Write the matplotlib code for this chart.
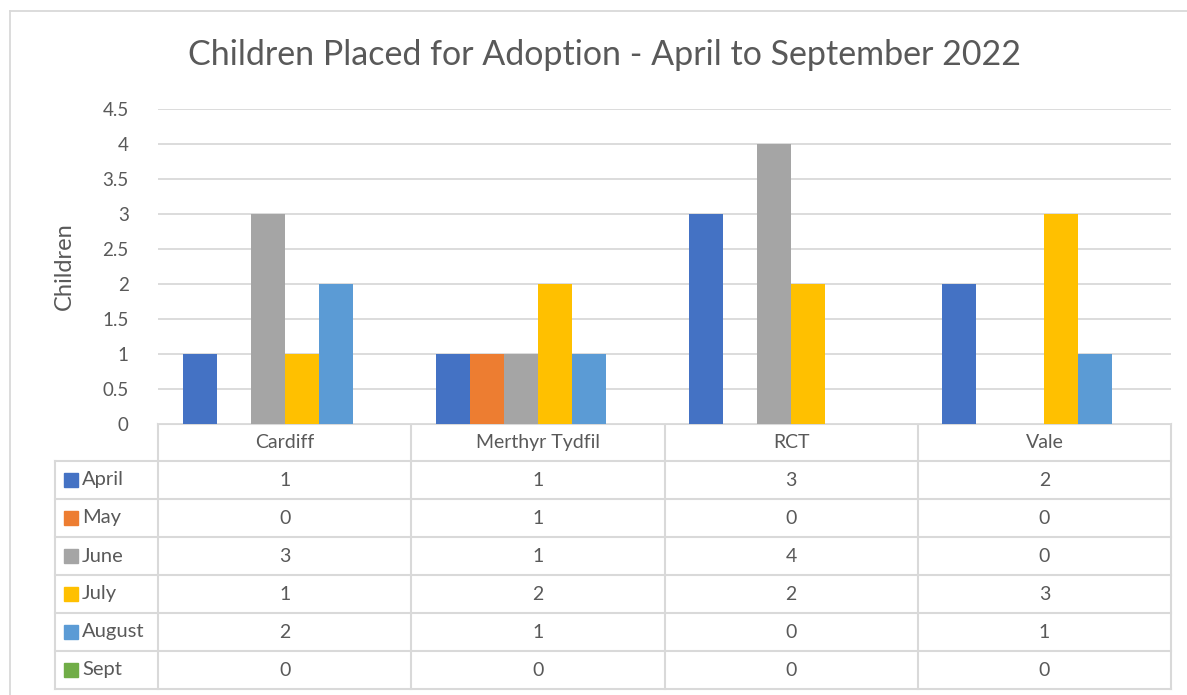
import numpy as np
import matplotlib
matplotlib.use('Agg')
import matplotlib.pyplot as plt
from matplotlib.patches import Rectangle

plt.rcParams['font.family'] = ['Lato', 'DejaVu Sans']

# data
areas = ['Cardiff', 'Merthyr Tydfil', 'RCT', 'Vale']
months = ['April', 'May', 'June', 'July', 'August', 'Sept']
april = [1, 1, 3, 2]
may = [0, 1, 0, 0]
june = [3, 1, 4, 0]
july = [1, 2, 2, 3]
august = [2, 1, 0, 1]
sept = [0, 0, 0, 0]
series = [april, may, june, july, august, sept]
colors = ['#4472C4', '#ED7D31', '#A5A5A5', '#FFC000', '#5B9BD5', '#70AD47']

W, H = 1187, 695
txt = '#595959'
line = '#D9D9D9'

fig = plt.figure(figsize=(W / 100, H / 100), dpi=100)

# pixel overlay for table and border
ov = fig.add_axes([0, 0, 1, 1])
ov.set_xlim(0, W)
ov.set_ylim(H, 0)
ov.axis('off')

x0, x1 = 158, 1171
y0, y1 = 424, 109
ax = fig.add_axes([x0 / W, 1 - y0 / H, (x1 - x0) / W, (y0 - y1) / H])

n = len(areas)
x = np.arange(n)
bw = 34 / ((x1 - x0) / n)
for i, (vals, c) in enumerate(zip(series, colors)):
    ax.bar(x + (i - 2.5) * bw, vals, bw, color=c, label=months[i], zorder=3)

ax.set_xlim(-0.5, n - 0.5)
ax.set_ylim(0, 4.5)
ax.set_yticks(np.arange(0, 4.51, 0.5))
ax.set_yticklabels(['0', '0.5', '1', '1.5', '2', '2.5', '3', '3.5', '4', '4.5'])
ax.set_xticks([])
ax.tick_params(axis='y', length=0, pad=21, labelsize=13.5, labelcolor=txt)
ax.grid(axis='y', color=line, linewidth=1.3, zorder=0)
for s in ax.spines.values():
    s.set_visible(False)
ax.set_ylabel('Children', fontsize=17, color=txt, labelpad=20)

fig.text(605 / W, 1 - 55 / H, 'Children Placed for Adoption - April to September 2022',
         ha='center', va='center', fontsize=24.5, color=txt)

# outer chart border
ov.plot([10, W], [11, 11], color=line, lw=1.3)
ov.plot([10, 10], [11, H], color=line, lw=1.3)

# data table
lab_x = 55
row_h = 38
hdr_bot = 461
col_w = (x1 - x0) / n
tb_bottom = hdr_bot + row_h * len(months)
ov.plot([x0, x1], [y0, y0], color=line, lw=1.5)
ov.plot([lab_x, x1], [hdr_bot, hdr_bot], color=line, lw=1.5)
for r in range(len(months)):
    yb = hdr_bot + row_h * (r + 1)
    ov.plot([lab_x, x1], [yb, yb], color=line, lw=1.5)
for c in range(n + 1):
    ov.plot([x0 + c * col_w] * 2, [y0, tb_bottom], color=line, lw=1.5)
ov.plot([lab_x, lab_x], [hdr_bot, tb_bottom], color=line, lw=1.5)

for c, a in enumerate(areas):
    ov.text(x0 + (c + 0.5) * col_w, (y0 + hdr_bot) / 2, a, ha='center', va='center',
            fontsize=14, color=txt)
for r, (m, vals, col) in enumerate(zip(months, series, colors)):
    yc = hdr_bot + row_h * (r + 0.5)
    ov.add_patch(Rectangle((64, yc - 7), 14, 14, color=col))
    ov.text(82, yc, m, ha='left', va='center', fontsize=14.5, color=txt)
    for c, v in enumerate(vals):
        ov.text(x0 + (c + 0.5) * col_w, yc, str(v), ha='center', va='center',
                fontsize=14, color=txt)

fig.savefig('out.png', dpi=100)
